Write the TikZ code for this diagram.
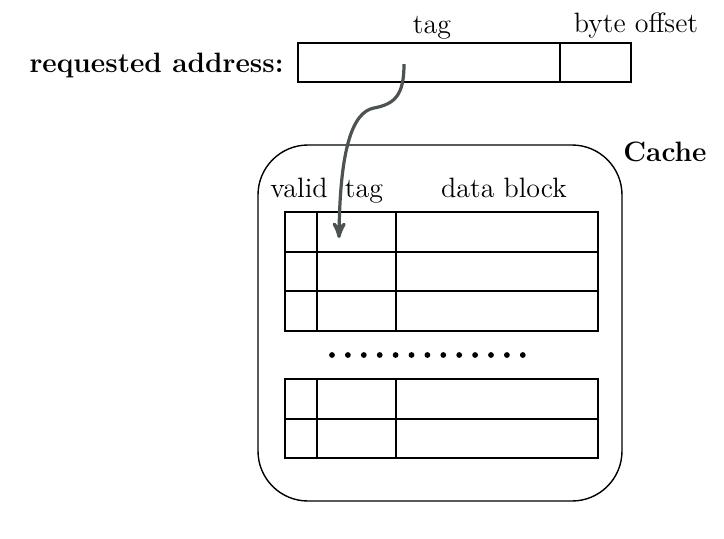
\documentclass[tikz,border=0pt]{standalone}
\usetikzlibrary{arrows}
\definecolor{arrowgray}{RGB}{77,82,82}
\tikzset{
 lbl/.style={anchor=base, inner sep=0, font=\fontsize{14}{16}\selectfont},
 boldlbl/.style={lbl, font=\fontsize{14}{16}\selectfont\bfseries},
 field/.style={black, line width=0.8pt},
 cell/.style={black, line width=1pt},
 lookup/.style={arrowgray, line width=1.6pt, ->, >=stealth'}
}
\begin{document}
\begin{tikzpicture}[x=0.5pt, y=-0.5pt]
\useasboundingbox (0,0) rectangle (724,538);
\node[boldlbl, anchor=base east] (req) at (284,72) {requested address:};
\node[lbl] (tagtop) at (432,33) {tag};
\node[lbl] (offtop) at (636,32) {byte offset};
\draw[field] (298,43) rectangle (631,82);
\draw[field] (560,43) --++(0,39);
\draw[line width=0.7pt, rounded corners=25pt] (258,145) rectangle (622,501);
\node[boldlbl] (cachelbl) at (665,161) {Cache};
\node[lbl] (validlbl) at (299,197) {valid};
\node[lbl] (taglbl) at (364,197) {tag};
\node[lbl] (datalbl) at (504,197) {data block};
\foreach \y in {212, 251.5, 291, 379, 418.5} {
 \draw[cell] (285,\y) rectangle (598,\y+39.5);
 \draw[cell] (317,\y) --++(0,39.5);
 \draw[cell] (396,\y) --++(0,39.5);
}
\foreach \i in {0,...,12} {
 \fill (332+\i*15.9,355) circle (2.9);
}
\coordinate (src) at (404,64);
\coordinate (dst) at (339,238);
\draw[lookup] (src) .. controls (404,95) and (395,104) .. (374,108) .. controls (352,112) and (340,150) .. (dst);
\end{tikzpicture}
\end{document}
